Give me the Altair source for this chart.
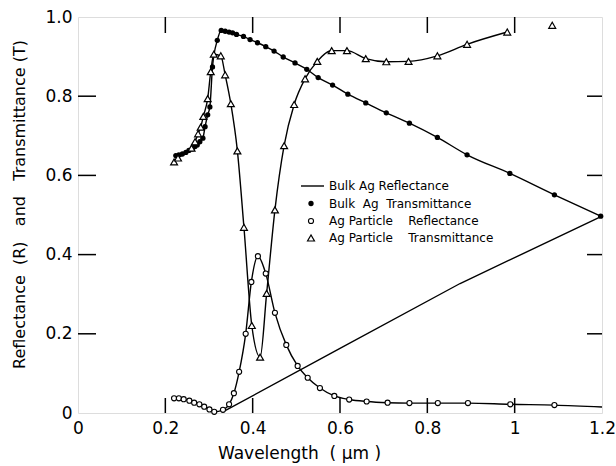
import altair as alt
import pandas as pd

# Bulk Ag transmittance: filled dots joined by a line
bulk_t_x = [0.224, 0.231, 0.239, 0.247, 0.254, 0.262, 0.268, 0.273, 0.279, 0.286,
            0.291, 0.297, 0.302, 0.308, 0.319, 0.328, 0.337, 0.346, 0.354, 0.363,
            0.379, 0.394, 0.411, 0.430, 0.449, 0.470, 0.497, 0.524, 0.550, 0.583,
            0.618, 0.659, 0.706, 0.759, 0.823, 0.891, 0.989, 1.091, 1.197]
bulk_t_y = [0.650, 0.652, 0.654, 0.658, 0.663, 0.667, 0.673, 0.677, 0.685, 0.694,
            0.723, 0.753, 0.773, 0.874, 0.941, 0.966, 0.964, 0.962, 0.960, 0.956,
            0.951, 0.943, 0.935, 0.925, 0.914, 0.899, 0.884, 0.868, 0.847, 0.828,
            0.805, 0.783, 0.758, 0.732, 0.696, 0.652, 0.605, 0.551, 0.497]

# Bulk Ag reflectance: plain line
bulk_r_x = [0.337, 0.600, 0.875, 1.200]
bulk_r_y = [0.006, 0.163, 0.327, 0.497]

# Ag particle reflectance: open circles
part_r_x = [0.220, 0.231, 0.242, 0.255, 0.266, 0.278, 0.289, 0.301, 0.312, 0.332,
            0.346, 0.357, 0.369, 0.384, 0.397, 0.412, 0.430, 0.451, 0.477, 0.503,
            0.526, 0.554, 0.587, 0.621, 0.661, 0.709, 0.759, 0.824, 0.893, 0.990,
            1.091]
part_r_y = [0.037, 0.037, 0.035, 0.031, 0.026, 0.022, 0.016, 0.009, 0.003, 0.008,
            0.022, 0.050, 0.104, 0.200, 0.331, 0.396, 0.352, 0.253, 0.172, 0.119,
            0.089, 0.063, 0.043, 0.034, 0.029, 0.026, 0.025, 0.025, 0.025, 0.022,
            0.020]
# the curve runs on to the right edge
part_r_tail_x = [1.200]
part_r_tail_y = [0.015]

# Ag particle transmittance: open triangles (last one stands alone)
part_t_x = [0.220, 0.229, 0.260, 0.268, 0.275, 0.281, 0.287, 0.297, 0.304, 0.311,
            0.327, 0.337, 0.350, 0.365, 0.380, 0.398, 0.417, 0.432, 0.451, 0.472,
            0.495, 0.520, 0.548, 0.581, 0.616, 0.659, 0.706, 0.757, 0.823, 0.891,
            0.983, 1.086]
part_t_y = [0.634, 0.644, 0.669, 0.685, 0.705, 0.722, 0.749, 0.794, 0.862, 0.906,
            0.902, 0.854, 0.781, 0.662, 0.469, 0.221, 0.141, 0.302, 0.513, 0.675,
            0.779, 0.844, 0.888, 0.915, 0.915, 0.895, 0.887, 0.888, 0.902, 0.931,
            0.962, 0.979]

x_tick_values = [0, 0.2, 0.4, 0.6, 0.8, 1.0, 1.2]
y_tick_values = [0, 0.2, 0.4, 0.6, 0.8, 1.0]
x_inner_ticks = [0.2, 0.4, 0.6, 0.8, 1.0]
y_inner_ticks = [0.2, 0.4, 0.6, 0.8]

legend_labels = [
    "Bulk Ag Reflectance",
    "Bulk\u00a0 Ag\u00a0 Transmittance",
    "Ag\u00a0Particle\u00a0\u00a0\u00a0 Reflectance",
    "Ag\u00a0Particle\u00a0\u00a0\u00a0 Transmittance",
]

FONT = "DejaVu Sans"
W, H = 524, 396

xs = alt.Scale(domain=[0, 1.2], nice=False, zero=False)
ys = alt.Scale(domain=[0, 1.0], nice=False, zero=False)

x_axis = alt.Axis(
    values=x_tick_values,
    labelExpr="datum.value == 0 ? '0' : (datum.value == 1 ? '1' : format(datum.value, '.1f'))",
    ticks=False, domain=False, grid=False,
    labelFont=FONT, labelFontSize=17, labelColor="black", labelPadding=7,
    labelFlush=False,
    title="Wavelength\u00a0 ( \u03bcm )",
    titleFont=FONT, titleFontSize=17, titleFontWeight="normal", titleColor="black",
    titleX=221, titleY=40, titleAlign="center", titleBaseline="middle",
)
y_axis = alt.Axis(
    values=y_tick_values,
    labelExpr="datum.value == 0 ? '0' : format(datum.value, '.1f')",
    ticks=False, domain=False, grid=False,
    labelFont=FONT, labelFontSize=17, labelColor="black", labelPadding=6,
    labelFlush=False,
    title="Reflectance\u00a0 (R)\u00a0\u00a0 and\u00a0\u00a0 Transmittance (T)",
    titleFont=FONT, titleFontSize=16, titleFontWeight="normal", titleColor="black",
    titleX=-59, titleY=187, titleAngle=270, titleAlign="center", titleBaseline="middle",
)


def X(field="x"):
    return alt.X(f"{field}:Q", scale=xs, axis=x_axis)


def Y(field="y"):
    return alt.Y(f"{field}:Q", scale=ys, axis=y_axis)


bulk_t = pd.DataFrame({"x": bulk_t_x, "y": bulk_t_y})
bulk_r = pd.DataFrame({"x": bulk_r_x, "y": bulk_r_y})
part_r = pd.DataFrame({"x": part_r_x, "y": part_r_y})
part_r_line = pd.DataFrame({"x": part_r_x + part_r_tail_x, "y": part_r_y + part_r_tail_y})
part_t = pd.DataFrame({"x": part_t_x, "y": part_t_y})
part_t_line = part_t.iloc[:-1]

LW = 1.4
line_kw = dict(color="black", strokeWidth=LW, interpolate="monotone")

layers = [
    alt.Chart(bulk_r).mark_line(color="black", strokeWidth=LW).encode(x=X(), y=Y()),
    alt.Chart(bulk_t).mark_line(**line_kw).encode(x=X(), y=Y()),
    alt.Chart(part_r_line).mark_line(**line_kw).encode(x=X(), y=Y()),
    alt.Chart(part_t_line).mark_line(**line_kw).encode(x=X(), y=Y()),
    alt.Chart(bulk_t).mark_point(shape="circle", filled=True, color="black", size=28, opacity=1)
    .encode(x=X(), y=Y()),
    alt.Chart(part_r).mark_point(shape="circle", filled=True, fill="white", stroke="black",
                                 strokeWidth=1.1, size=26, opacity=1)
    .encode(x=X(), y=Y()),
    alt.Chart(part_t).mark_point(shape="triangle-up", filled=True, fill="white", stroke="black",
                                 strokeWidth=1.2, size=48, opacity=1)
    .encode(x=X(), y=Y()),
]

# inward-pointing tick marks on all four sides
xt = pd.DataFrame({"v": x_inner_ticks})
yt = pd.DataFrame({"v": y_inner_ticks})
tick_kw = dict(color="black", strokeWidth=1.5)
layers += [
    alt.Chart(xt).mark_rule(**tick_kw).encode(x=alt.X("v:Q", scale=xs, axis=x_axis),
                                              y=alt.value(H), y2=alt.value(H - 15)),
    alt.Chart(xt).mark_rule(**tick_kw).encode(x=alt.X("v:Q", scale=xs, axis=x_axis),
                                              y=alt.value(0), y2=alt.value(16)),
    alt.Chart(yt).mark_rule(**tick_kw).encode(y=alt.Y("v:Q", scale=ys, axis=y_axis),
                                              x=alt.value(0), x2=alt.value(18)),
    alt.Chart(yt).mark_rule(**tick_kw).encode(y=alt.Y("v:Q", scale=ys, axis=y_axis),
                                              x=alt.value(W), x2=alt.value(W - 15)),
]

# legend block
leg_rows = [169, 186.5, 204, 221]
leg_sym_x = 233
leg_text_x = 251
dummy = pd.DataFrame({"k": [0]})
layers.append(
    alt.Chart(dummy).mark_rule(color="black", strokeWidth=LW)
    .encode(x=alt.value(223), x2=alt.value(246), y=alt.value(leg_rows[0]))
)
layers.append(
    alt.Chart(dummy).mark_point(shape="circle", filled=True, color="black", size=28, opacity=1)
    .encode(x=alt.value(leg_sym_x), y=alt.value(leg_rows[1]))
)
layers.append(
    alt.Chart(dummy).mark_point(shape="circle", filled=True, fill="white", stroke="black",
                                strokeWidth=1.1, size=26, opacity=1)
    .encode(x=alt.value(leg_sym_x), y=alt.value(leg_rows[2]))
)
layers.append(
    alt.Chart(dummy).mark_point(shape="triangle-up", filled=True, fill="white", stroke="black",
                                strokeWidth=1.2, size=48, opacity=1)
    .encode(x=alt.value(leg_sym_x), y=alt.value(leg_rows[3]))
)
for label, ry in zip(legend_labels, leg_rows):
    layers.append(
        alt.Chart(pd.DataFrame({"t": [label]}))
        .mark_text(align="left", baseline="middle", font=FONT, fontSize=12, color="black")
        .encode(text="t:N", x=alt.value(leg_text_x), y=alt.value(ry))
    )

chart = (
    alt.layer(*layers)
    .properties(
        width=W, height=H,
        autosize=alt.AutoSizeParams(type="none"),
        padding={"left": 78, "top": 17, "right": 14, "bottom": 53},
    )
    .configure_view(stroke="black", strokeWidth=1.5)
    .configure(background="white")
)

chart.save("out.html", embed_options={"renderer": "svg", "actions": False})
